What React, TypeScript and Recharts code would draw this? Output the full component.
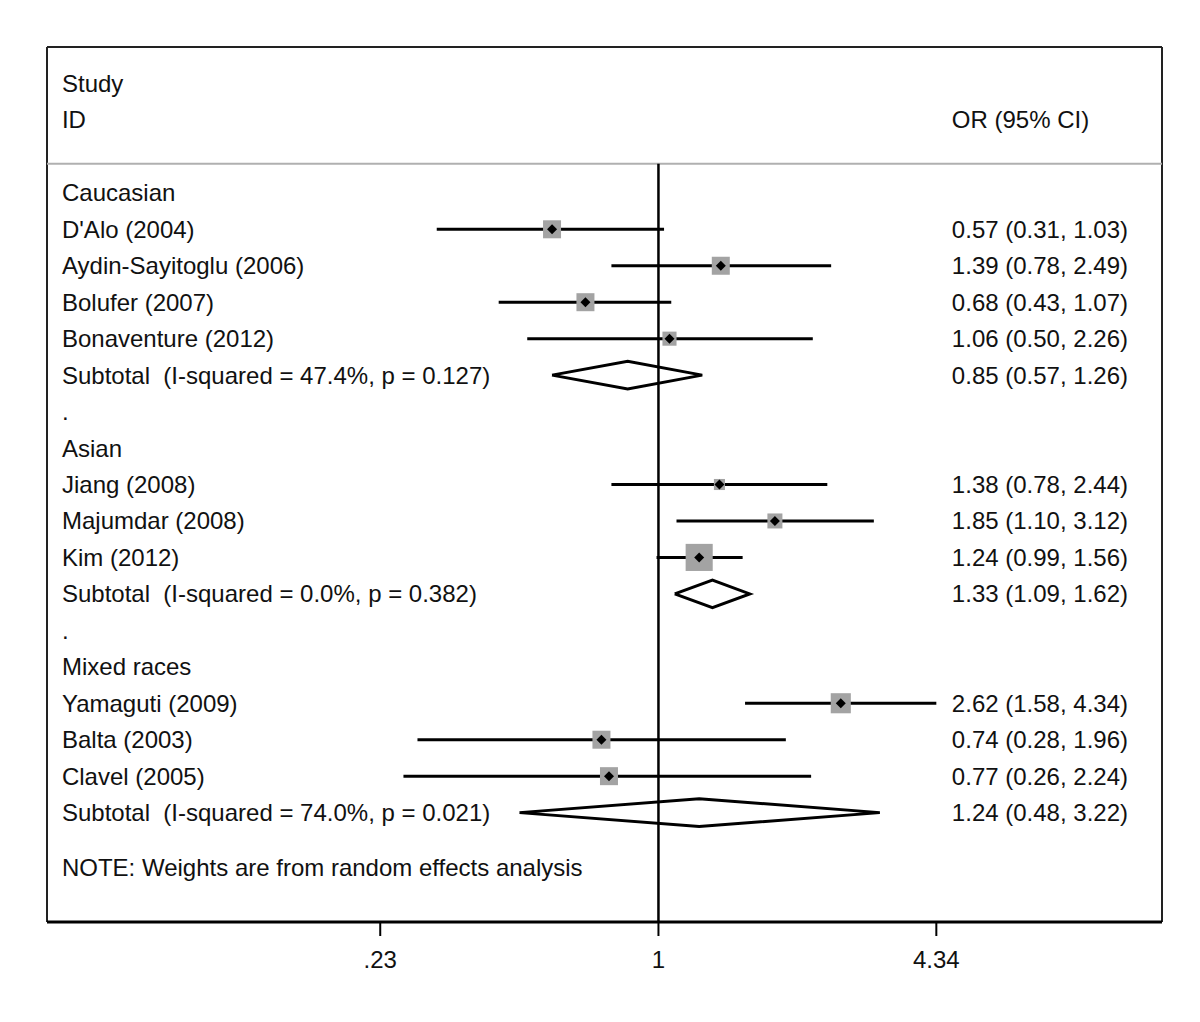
import { ComposedChart, XAxis, YAxis, Scatter, ReferenceLine } from "recharts"

const groupNames = ["Caucasian", "Asian", "Mixed races"]
const studyNames = [
  "D'Alo (2004)", "Aydin-Sayitoglu (2006)", "Bolufer (2007)", "Bonaventure (2012)",
  "Jiang (2008)", "Majumdar (2008)", "Kim (2012)",
  "Yamaguti (2009)", "Balta (2003)", "Clavel (2005)",
]
const studyGroup = [0, 0, 0, 0, 1, 1, 1, 2, 2, 2]
const studyOR = [0.57, 1.39, 0.68, 1.06, 1.38, 1.85, 1.24, 2.62, 0.74, 0.77]
const studyLow = [0.31, 0.78, 0.43, 0.5, 0.78, 1.1, 0.99, 1.58, 0.28, 0.26]
const studyHigh = [1.03, 2.49, 1.07, 2.26, 2.44, 3.12, 1.56, 4.34, 1.96, 2.24]
const studyWeight = [9.8, 9.8, 9.8, 6.0, 3.7, 6.8, 22.2, 12.2, 9.8, 9.8]
const subtotalI2 = ["47.4%", "0.0%", "74.0%"]
const subtotalP = ["0.127", "0.382", "0.021"]
const subtotalOR = [0.85, 1.33, 1.24]
const subtotalLow = [0.57, 1.09, 0.48]
const subtotalHigh = [1.26, 1.62, 3.22]
const tickValues = [0.23, 1, 4.34]
const tickLabels = [".23", "1", "4.34"]
const noteText = "NOTE: Weights are from random effects analysis"

// layout (log-OR units / row units)
const XMIN = -3.23
const XMAX = 2.66
const LABEL_X = -3.151
const OR_X = 1.55
const DIAMOND_H = 0.38
const FONT = "'Liberation Sans', Arial, sans-serif"
const TEXT = "#111"

const fmt = (o: number, l: number, h: number) =>
  `${o.toFixed(2)} (${l.toFixed(2)}, ${h.toFixed(2)})`

type TextRow = { x: number; y: number; label: string }
const leftText: TextRow[] = [
  { x: LABEL_X, y: -3, label: "Study" },
  { x: LABEL_X, y: -2, label: "ID" },
]
const rightText: TextRow[] = [{ x: OR_X, y: -2, label: "OR (95% CI)" }]
const studyPoints: { x: number; y: number; lo: number; hi: number; w: number }[] = []
const diamonds: { x: number; y: number }[][] = []

let row = 0
groupNames.forEach((g, gi) => {
  leftText.push({ x: LABEL_X, y: row, label: g })
  row++
  studyNames.forEach((name, i) => {
    if (studyGroup[i] !== gi) return
    leftText.push({ x: LABEL_X, y: row, label: name })
    rightText.push({ x: OR_X, y: row, label: fmt(studyOR[i], studyLow[i], studyHigh[i]) })
    studyPoints.push({
      x: Math.log(studyOR[i]),
      y: row,
      lo: Math.log(studyLow[i]),
      hi: Math.log(studyHigh[i]),
      w: studyWeight[i],
    })
    row++
  })
  leftText.push({ x: LABEL_X, y: row, label: `Subtotal  (I-squared = ${subtotalI2[gi]}, p = ${subtotalP[gi]})` })
  rightText.push({ x: OR_X, y: row, label: fmt(subtotalOR[gi], subtotalLow[gi], subtotalHigh[gi]) })
  const lo = Math.log(subtotalLow[gi])
  const hi = Math.log(subtotalHigh[gi])
  const est = Math.log(subtotalOR[gi])
  diamonds.push([
    { x: lo, y: row },
    { x: est, y: row - DIAMOND_H },
    { x: hi, y: row },
    { x: est, y: row + DIAMOND_H },
    { x: lo, y: row },
  ])
  row++
  if (gi < groupNames.length - 1) {
    leftText.push({ x: LABEL_X, y: row, label: "." })
    row++
  }
})
leftText.push({ x: LABEL_X, y: row + 0.5, label: noteText })

const TextShape = (props: any) => (
  <text
    x={props.cx}
    y={props.cy}
    dominantBaseline="central"
    fontSize={24}
    fontFamily={FONT}
    fill={TEXT}
    style={{ whiteSpace: "pre" }}
  >
    {props.payload.label}
  </text>
)

const BoxShape = (props: any) => {
  const { cx, cy, payload } = props
  const s = Math.sqrt(payload.w) * 5.75
  const d = 5
  return (
    <g>
      <rect x={cx - s / 2} y={cy - s / 2} width={s} height={s} fill="#a3a3a3" />
      <polygon
        points={`${cx - d},${cy} ${cx},${cy - d} ${cx + d},${cy} ${cx},${cy + d}`}
        fill="#000"
      />
    </g>
  )
}

const tickFmt = (v: number) => {
  const i = tickValues.findIndex((t) => Math.abs(Math.log(t) - v) < 1e-6)
  return i >= 0 ? tickLabels[i] : ""
}

export default function App() {
  return (
    <div style={{ position: "absolute", left: 0, top: 0, background: "#fff" }}>
      <ComposedChart width={1200} height={1022} margin={{ top: 47, right: 38, bottom: 40, left: 47 }}>
        <XAxis
          type="number"
          dataKey="x"
          domain={[XMIN, XMAX]}
          allowDataOverflow
          ticks={tickValues.map((t) => Math.log(t))}
          tickFormatter={tickFmt}
          interval={0}
          height={60}
          tickSize={14}
          tickMargin={15}
          axisLine={{ stroke: "#000", strokeWidth: 3 }}
          tickLine={{ stroke: "#000", strokeWidth: 2 }}
          tick={{ fontSize: 24, fill: TEXT, fontFamily: FONT }}
        />
        <YAxis type="number" dataKey="y" domain={[-4, 20]} reversed hide width={0} allowDataOverflow />

        {/* frame */}
        <ReferenceLine y={-4} stroke="#222" strokeWidth={2} />
        <ReferenceLine segment={[{ x: XMIN, y: -4 }, { x: XMIN, y: 20 }]} stroke="#222" strokeWidth={2} />
        <ReferenceLine segment={[{ x: XMAX, y: -4 }, { x: XMAX, y: 20 }]} stroke="#222" strokeWidth={2} />
        <ReferenceLine y={-0.8} stroke="#b0b0b0" strokeWidth={2} />

        {/* null line */}
        <ReferenceLine segment={[{ x: 0, y: -0.8 }, { x: 0, y: 20 }]} stroke="#000" strokeWidth={2.5} />

        {studyPoints.map((p, i) => (
          <ReferenceLine
            key={i}
            segment={[{ x: p.lo, y: p.y }, { x: p.hi, y: p.y }]}
            stroke="#000"
            strokeWidth={3}
          />
        ))}

        <Scatter data={studyPoints} shape={BoxShape} isAnimationActive={false} />

        {diamonds.map((pts, i) => (
          <Scatter
            key={i}
            data={pts}
            line={{ stroke: "#000", strokeWidth: 3 }}
            lineType="joint"
            shape={() => <g />}
            isAnimationActive={false}
          />
        ))}

        <Scatter data={leftText} shape={TextShape} isAnimationActive={false} />
        <Scatter data={rightText} shape={TextShape} isAnimationActive={false} />
      </ComposedChart>
    </div>
  )
}
